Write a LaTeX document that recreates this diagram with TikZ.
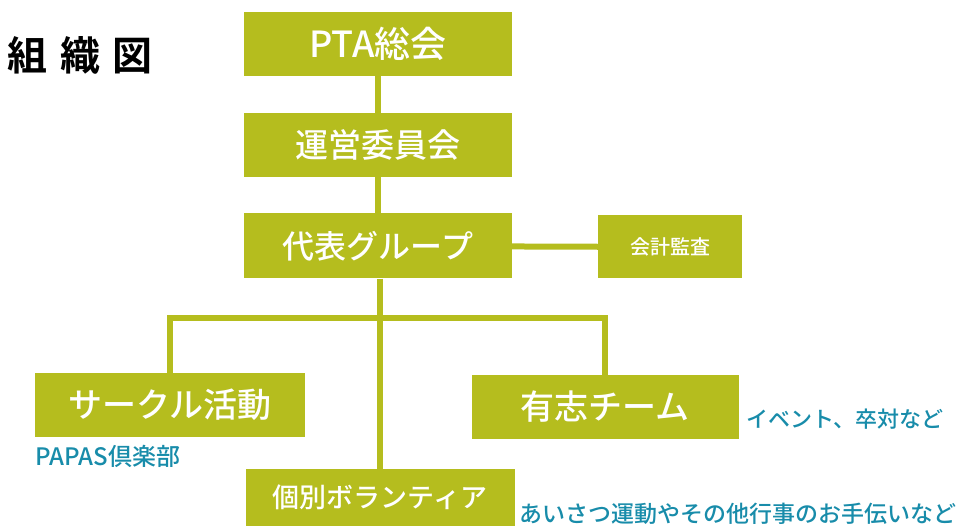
\documentclass[tikz,border=0pt]{standalone}
\usepackage{fontspec}
\newfontfamily\jpfont{Noto Sans CJK JP Medium}
\newfontfamily\jpbold{Noto Sans CJK JP Bold}
\definecolor{boxgreen}{RGB}{181,189,30}
\definecolor{noteblue}{RGB}{24,140,170}
\newcommand{\jpsize}[1]{\jpfont\fontsize{#1}{#1}\selectfont}
\tikzset{
  orgbox/.style={fill=boxgreen, text=white, inner sep=0pt},
  orgline/.style={draw=boxgreen, line width=6pt},
  note/.style={text=noteblue, inner sep=0pt, anchor=west},
}

\begin{document}
\begin{tikzpicture}[x=1pt, y=-1pt]
		%%%%% START %%%%%
		\useasboundingbox (0, 0) rectangle (973, 526);
		
		\node[inner sep=0pt, font=\jpbold\fontsize{40}{40}\selectfont] (title) at (80, 55) {組\hspace{12pt}織\hspace{12pt}図};
		
		\node[orgbox, minimum width=268pt, minimum height=64pt, font=\jpsize{36}] (pta) at (378, 44) {PTA総会};
		\node[orgbox, minimum width=268pt, minimum height=64pt, font=\jpsize{33}] (unei) at (378, 145) {運営委員会};
		\node[orgbox, minimum width=268pt, minimum height=65pt, font=\jpsize{32}] (daihyo) at (378, 246) {代表グループ};
		\node[orgbox, minimum width=144pt, minimum height=63pt, font=\jpsize{20}] (kansa) at (670, 247) {会計監査};
		
		\node[orgbox, minimum width=270pt, minimum height=64pt, font=\jpsize{34}] (circle) at (170, 405) {サークル活動};
		\node[orgbox, minimum width=267pt, minimum height=64pt, font=\jpsize{34}] (yushi) at (605, 407) {有志チーム};
		\node[orgbox, minimum width=269pt, minimum height=57pt, font=\jpsize{27}] (kobetsu) at (380, 497.5) {個別ボランティア};
		
		\coordinate (branch) at (380, 318);
		
		\draw[orgline] (pta) -- (unei);
		\draw[orgline] (unei) -- (daihyo);
		\draw[orgline] (daihyo) -- (kansa);
		\draw[orgline] (daihyo.south -| branch) -- (kobetsu.north -| branch);
		\draw[orgline] (branch) -| (circle.north);
		\draw[orgline] (branch) -| (yushi.north);
		
		\node[note, font=\jpsize{24}] (papas) at (35, 456) {PAPAS倶楽部};
		\node[note, font=\jpsize{22}] (event) at (746, 419) {イベント、卒対など};
		\node[note, font=\jpsize{23}] (aisatsu) at (519, 514) {あいさつ運動やその他行事のお手伝いなど};
		
		%%%%% END %%%%%
\end{tikzpicture}
\end{document}
